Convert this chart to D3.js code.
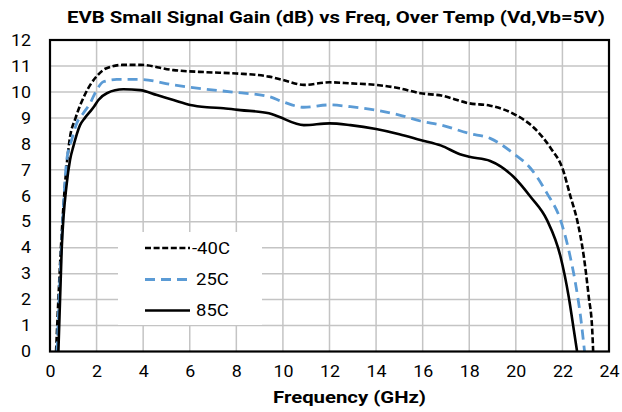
<!DOCTYPE html>
<html>
<head>
<meta charset="utf-8">
<script src="https://cdn.jsdelivr.net/npm/d3@7/dist/d3.min.js"></script>
<style>
  html, body { margin: 0; padding: 0; background: #fff; }
  svg { display: block; }
  text { font-family: Roboto, "Liberation Sans", Arial, sans-serif; }
</style>
</head>
<body>
<svg id="chart" width="622" height="412"></svg>
<script>
const title = "EVB Small Signal Gain (dB) vs Freq, Over Temp (Vd,Vb=5V)";
const xLabel = "Frequency (GHz)";
const xTicks = [0, 2, 4, 6, 8, 10, 12, 14, 16, 18, 20, 22, 24];
const yTicks = [0, 1, 2, 3, 4, 5, 6, 7, 8, 9, 10, 11, 12];
const seriesNames = ["-40C", "25C", "85C"];

const freqM40 = [0.26,0.5,0.65,0.85,1.1,1.5,2.0,2.4,3.1,3.9,5.3,6.7,8.0,9.4,10.0,10.9,12.0,12.9,14.0,15.0,15.9,16.8,18.0,18.9,20.0,20.8,21.5,22.0,22.35,22.63,22.92,23.13,23.28,23.32];
const gainM40 = [0,4.5,6.5,8.2,9.0,9.9,10.6,10.9,11.04,11.04,10.84,10.76,10.71,10.59,10.46,10.27,10.37,10.33,10.27,10.14,9.95,9.86,9.56,9.47,9.11,8.6,7.83,7.06,5.96,5.07,3.65,2.11,0.83,0];

const freq25 = [0.3,0.5,0.72,0.93,1.15,1.43,1.72,2.0,2.29,2.87,3.87,5.3,6.74,8.0,9.4,10.0,10.9,12.0,12.9,14.0,15.0,15.9,16.8,18.0,18.9,19.9,20.63,21.34,21.92,22.27,22.56,22.78,22.95];
const gain25 = [0,4.2,7.38,8.15,8.79,9.18,9.56,10.07,10.39,10.48,10.48,10.27,10.1,9.98,9.82,9.62,9.41,9.5,9.43,9.3,9.11,8.88,8.72,8.4,8.21,7.63,7.06,6.09,5.06,3.91,2.63,1.34,0];

const freq85 = [0.36,0.5,0.72,0.86,1.0,1.29,1.5,1.72,1.9,2.08,2.44,3.15,3.87,4.59,5.3,6.02,6.74,7.45,8.17,9.4,9.8,10.9,12.0,12.9,14.0,15.0,15.9,16.8,17.6,18.0,18.9,19.9,20.63,21.34,21.92,22.27,22.49,22.63];
const gain85 = [0,3.9,6.48,7.38,7.89,8.72,9.0,9.24,9.45,9.69,9.95,10.1,10.07,9.88,9.69,9.5,9.41,9.37,9.3,9.18,9.05,8.72,8.79,8.72,8.57,8.37,8.15,7.93,7.6,7.5,7.34,6.73,5.96,5.06,3.65,2.11,0.83,0];

const series = [
  { name: seriesNames[0], f: freqM40, g: gainM40, color: "#000000", dash: "6,2.6", width: 2.6 },
  { name: seriesNames[1], f: freq25, g: gain25, color: "#5b9bd5", dash: "10,6", width: 2.8 },
  { name: seriesNames[2], f: freq85, g: gain85, color: "#000000", dash: null, width: 2.6 }
];

const svg = d3.select("#chart");
const L = 50, R = 609, T = 40, B = 351.5;
const x = d3.scaleLinear().domain([0, 24]).range([L, R]);
const y = d3.scaleLinear().domain([0, 12]).range([B, T]);

function stretch(sel, factor) {
  sel.each(function () {
    const w = this.getComputedTextLength();
    d3.select(this).attr("textLength", w * factor).attr("lengthAdjust", "spacingAndGlyphs");
  });
}

// gridlines
const grid = svg.append("g");
grid.selectAll("line.v").data(xTicks.slice(1, -1)).enter().append("line")
  .attr("x1", d => x(d)).attr("x2", d => x(d)).attr("y1", T).attr("y2", B)
  .attr("stroke", "#c4c4c4").attr("stroke-width", 1.5);
grid.selectAll("line.h").data(yTicks.slice(1, -1)).enter().append("line")
  .attr("x1", L).attr("x2", R).attr("y1", d => y(d)).attr("y2", d => y(d))
  .attr("stroke", "#c4c4c4").attr("stroke-width", 1.5);

// axes (labels only)
const xAxis = d3.axisBottom(x).tickValues(xTicks).tickSize(0).tickPadding(14);
const gx = svg.append("g").attr("transform", `translate(0,${B})`).call(xAxis);
gx.select(".domain").remove();
gx.selectAll("text").attr("font-size", 16.5).attr("fill", "#000").attr("font-family", "Roboto, sans-serif");
stretch(gx.selectAll("text"), 1.08);

const yAxis = d3.axisLeft(y).tickValues(yTicks).tickSize(0).tickPadding(19);
const gy = svg.append("g").attr("transform", `translate(${L},0)`).call(yAxis);
gy.select(".domain").remove();
gy.selectAll("text").attr("font-size", 16.5).attr("fill", "#000").attr("font-family", "Roboto, sans-serif");
stretch(gy.selectAll("text"), 1.08);

// curves
const line = d3.line().x(d => x(d[0])).y(d => y(d[1])).curve(d3.curveMonotoneX);
svg.append("clipPath").attr("id", "clip").append("rect")
  .attr("x", L).attr("y", T).attr("width", R - L).attr("height", B - T);
const curves = svg.append("g").attr("clip-path", "url(#clip)");
series.forEach(s => {
  const pts = s.f.map((f, i) => [f, s.g[i]]);
  curves.append("path").attr("d", line(pts)).attr("fill", "none")
    .attr("stroke", s.color).attr("stroke-width", s.width)
    .attr("stroke-dasharray", s.dash).attr("stroke-linejoin", "round");
});

// border
svg.append("rect").attr("x", L).attr("y", T).attr("width", R - L).attr("height", B - T)
  .attr("fill", "none").attr("stroke", "#000").attr("stroke-width", 2.2);

// legend
const lg = svg.append("g");
lg.append("rect").attr("x", 118).attr("y", 232).attr("width", 144).attr("height", 93).attr("fill", "#fff");
const legY = [248, 279.5, 310.5];
series.forEach((s, i) => {
  lg.append("line").attr("x1", 145).attr("x2", 190).attr("y1", legY[i]).attr("y2", legY[i])
    .attr("stroke", s.color).attr("stroke-width", s.width).attr("stroke-dasharray", s.dash);
  const t = lg.append("text").attr("x", i === 0 ? 192 : 196).attr("y", legY[i]).attr("dy", "0.35em")
    .attr("font-size", 16.5).text(s.name);
  stretch(t, 1.12);
});

// titles
svg.append("text").attr("x", 336).attr("y", 23).attr("text-anchor", "middle")
  .attr("font-size", 16).attr("font-weight", "bold")
  .attr("textLength", 538).attr("lengthAdjust", "spacingAndGlyphs").text(title);
svg.append("text").attr("x", 349.5).attr("y", 403).attr("text-anchor", "middle")
  .attr("font-size", 16).attr("font-weight", "bold")
  .attr("textLength", 153).attr("lengthAdjust", "spacingAndGlyphs").text(xLabel);
</script>
</body>
</html>
